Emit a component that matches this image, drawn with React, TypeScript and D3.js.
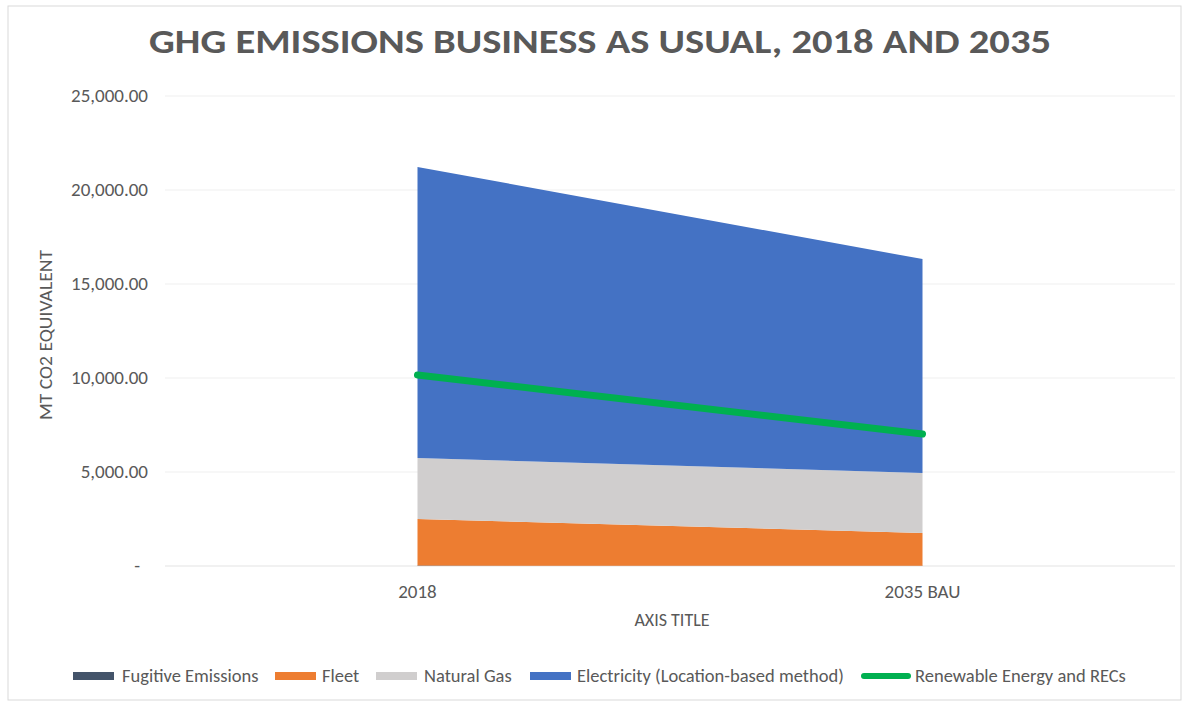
import React from "react";
import * as d3 from "d3";

const categories = ["2018", "2035 BAU"];
const fugitive = [20, 15];
const fleet = [2480, 1740];
const naturalGas = [3245, 3190];
const electricity = [15480, 11380];
const renewable = [10160, 7020];
const yTicks = [0, 5000, 10000, 15000, 20000, 25000];

const seriesKeys = ["Fugitive Emissions", "Fleet", "Natural Gas", "Electricity (Location-based method)"];
const seriesValues = [fugitive, fleet, naturalGas, electricity];
const colors = ["#44546A", "#ED7D31", "#D0CECE", "#4472C4"];
const lineName = "Renewable Energy and RECs";
const lineColor = "#00B050";

const W = 1189;
const H = 702;
const FONT = "Carlito, 'Open Sans', sans-serif";

export default function App() {
  const x = d3.scaleBand<string>().domain(categories).range([165, 1175]);
  const cx = (c: string) => (x(c) as number) + x.bandwidth() / 2;
  const y = d3.scaleLinear().domain([0, 25000]).range([566, 96]);

  const table = categories.map((c, i) => {
    const row: any = { cat: c };
    seriesKeys.forEach((k, j) => (row[k] = seriesValues[j][i]));
    return row;
  });
  const stacked = d3.stack<any>().keys(seriesKeys)(table);
  const area = d3
    .area<any>()
    .x((d) => cx(d.data.cat))
    .y0((d) => y(d[0]))
    .y1((d) => y(d[1]));
  const line = d3
    .line<number>()
    .x((_, i) => cx(categories[i]))
    .y((d) => y(d));

  const fmt = (v: number) => (v === 0 ? "-" : d3.format(",.2f")(v));

  const legendItems = [
    { name: seriesKeys[0], color: colors[0], sx: 73, tx: 122, type: "rect" },
    { name: seriesKeys[1], color: colors[1], sx: 275, tx: 322, type: "rect" },
    { name: seriesKeys[2], color: colors[2], sx: 376, tx: 424, type: "rect" },
    { name: seriesKeys[3], color: colors[3], sx: 530, tx: 577, type: "rect" },
    { name: lineName, color: lineColor, sx: 864, tx: 915, type: "line" },
  ];

  return (
    <svg width={W} height={H} style={{ position: "absolute", left: 0, top: 0, background: "#fff" }}>
      <rect x={8} y={6} width={W - 16} height={H - 8} fill="#fff" stroke="#d9d9d9" strokeWidth={1} />
      <text
        x={600}
        y={53}
        textAnchor="middle"
        fontFamily={FONT}
        fontWeight="bold"
        fontSize={35}
        fill="#595959"
        textLength={902}
        lengthAdjust="spacingAndGlyphs"
      >
        GHG EMISSIONS BUSINESS AS USUAL, 2018 AND 2035
      </text>
      {yTicks.map((t) => (
        <g key={t}>
          <line x1={165} x2={1175} y1={y(t)} y2={y(t)} stroke={t === 0 ? "#e3e3e3" : "#efefef"} strokeWidth={1} />
          <text
            x={t === 0 ? 140 : 148}
            y={y(t) + 6}
            textAnchor="end"
            fontFamily={FONT}
            fontSize={19}
            fill="#595959"
          >
            {fmt(t)}
          </text>
        </g>
      ))}
      {stacked.map((s, i) => (
        <path key={s.key} d={area(s) as string} fill={colors[i]} />
      ))}
      <path d={line(renewable) as string} fill="none" stroke={lineColor} strokeWidth={7} strokeLinecap="round" />
      {categories.map((c) => (
        <text key={c} x={cx(c)} y={598} textAnchor="middle" fontFamily={FONT} fontSize={19} fill="#595959">
          {c}
        </text>
      ))}
      <text x={672} y={626} textAnchor="middle" fontFamily={FONT} fontSize={18} fill="#595959">
        AXIS TITLE
      </text>
      <text
        transform={`translate(52,${335}) rotate(-90)`}
        textAnchor="middle"
        fontFamily={FONT}
        fontSize={18}
        fill="#595959"
        textLength={170}
        lengthAdjust="spacingAndGlyphs"
      >
        MT CO2 EQUIVALENT
      </text>
      {legendItems.map((it) => (
        <g key={it.name}>
          {it.type === "rect" ? (
            <rect x={it.sx} y={672} width={41} height={8} fill={it.color} />
          ) : (
            <line x1={it.sx} x2={it.sx + 44} y1={676} y2={676} stroke={it.color} strokeWidth={6} strokeLinecap="round" />
          )}
          <text x={it.tx} y={682} fontFamily={FONT} fontSize={18.5} fill="#595959">
            {it.name}
          </text>
        </g>
      ))}
    </svg>
  );
}
